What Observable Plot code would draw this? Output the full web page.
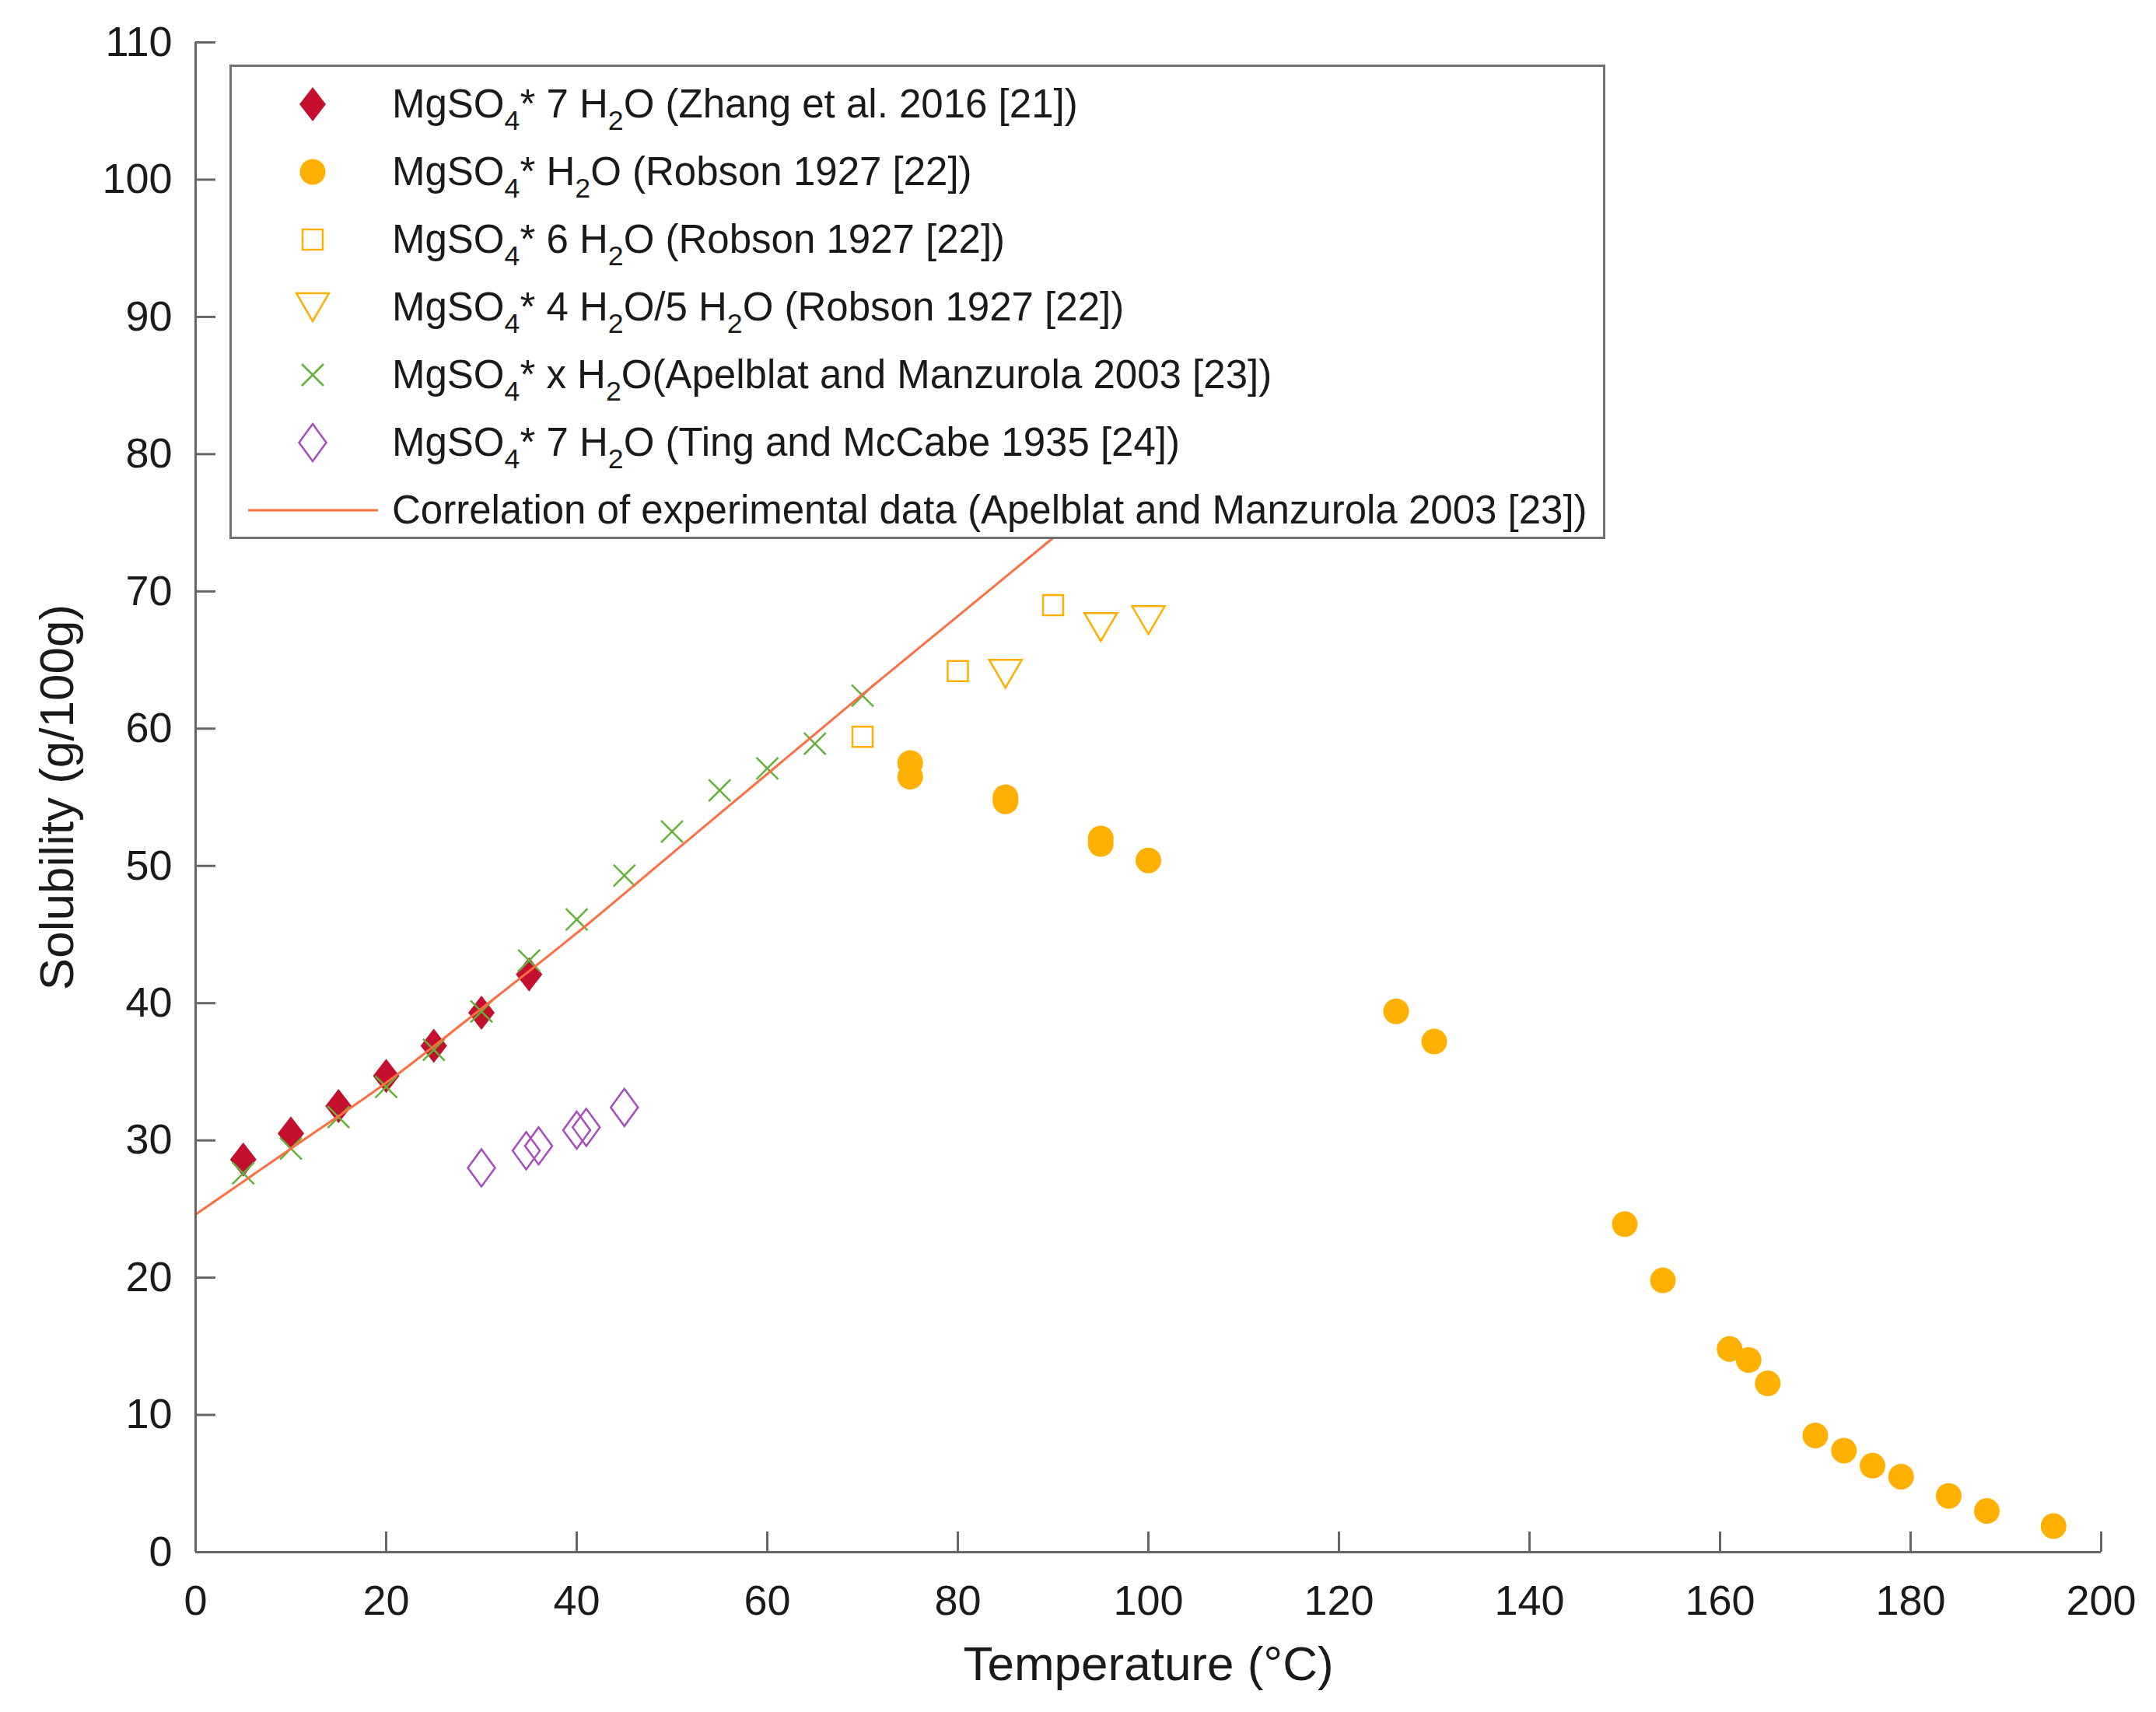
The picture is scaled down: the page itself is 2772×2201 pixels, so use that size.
<!DOCTYPE html>
<html><head><meta charset="utf-8">
<script src="https://cdn.jsdelivr.net/npm/d3@7"></script>
<script src="https://cdn.jsdelivr.net/npm/@observablehq/plot@0.6"></script>
<style>
html,body{margin:0;padding:0;background:#fff;}
#wrap{position:relative;width:2772px;height:2201px;font-family:"Liberation Sans",Arial,Helvetica,sans-serif;color:#1a1a1a;}
#legend{position:absolute;left:295px;top:83px;width:1769px;height:610px;box-sizing:border-box;border:3px solid #707070;background:#fff;}
.row{position:absolute;left:0;height:60px;line-height:60px;font-size:51px;white-space:nowrap;}
.row svg{position:absolute;top:0;overflow:visible;}
.row span{position:absolute;left:206px;top:0;}
sub{font-size:0.7em;vertical-align:-0.45em;line-height:0;}
</style></head>
<body>
<div id="wrap"><div id="legend"></div></div>
<script>
// ---------- data ----------
const xTicks = [0,20,40,60,80,100,120,140,160,180,200];
const yTicks = [0,10,20,30,40,50,60,70,80,90,100,110];

const zhangT = [5,10,15,20,25,30,35];
const zhangS = [28.6,30.5,32.5,34.7,36.9,39.3,42.1];

const robsonH2O_T = [75,75,85,85,95,95,100,126,130,150,154,161,163,165,170,173,176,179,184,188,195];
const robsonH2O_S = [57.5,56.5,55.0,54.7,52.0,51.6,50.4,39.4,37.2,23.9,19.8,14.8,14.0,12.3,8.5,7.4,6.3,5.5,4.1,3.0,1.9];

const robson6_T = [70,80,90];
const robson6_S = [59.4,64.2,69.0];

const robson45_T = [85,95,100];
const robson45_S = [64.0,67.4,67.9];

const apelT = [5,10,15,20,25,30,35,40,45,50,55,60,65,70];
const apelS = [27.6,29.4,31.7,33.9,36.6,39.4,43.1,46.1,49.3,52.5,55.5,57.1,58.9,62.4];

const tingT = [30,34.7,36,40,41,45];
const tingS = [28.0,29.25,29.6,30.75,30.95,32.4];

const corrT = [0,10,20,30,40,50,60,70,80,90,100];
const corrS = [24.6,29.4,34.2,39.6,45.1,50.9,56.7,62.5,68.2,73.9,79.5];

const legendLabels = [
  "MgSO<sub>4</sub>* 7 H<sub>2</sub>O (Zhang et al. 2016 [21])",
  "MgSO<sub>4</sub>* H<sub>2</sub>O (Robson 1927 [22])",
  "MgSO<sub>4</sub>* 6 H<sub>2</sub>O (Robson 1927 [22])",
  "MgSO<sub>4</sub>* 4 H<sub>2</sub>O/5 H<sub>2</sub>O (Robson 1927 [22])",
  "MgSO<sub>4</sub>* x H<sub>2</sub>O(Apelblat and Manzurola 2003 [23])",
  "MgSO<sub>4</sub>* 7 H<sub>2</sub>O (Ting and McCabe 1935 [24])",
  "Correlation of experimental data (Apelblat and Manzurola 2003 [23])"
];

// ---------- styles ----------
const RED = "#C4102E", ORANGE = "#FFB000", GREEN = "#62B23A", PURPLE = "#A64DBC", CORAL = "#FF6E40", AXIS = "#666666";

const sym = {
  diamondFilled: {draw(c){ c.moveTo(0,-22); c.lineTo(17,0); c.lineTo(0,22); c.lineTo(-17,0); c.closePath(); }},
  circle: {draw(c){ c.moveTo(16.5,0); c.arc(0,0,16.5,0,2*Math.PI); c.closePath(); }},
  square: {draw(c){ c.moveTo(-13,-13); c.lineTo(13,-13); c.lineTo(13,13); c.lineTo(-13,13); c.closePath(); }},
  triDown: {draw(c){ c.moveTo(-21,-18); c.lineTo(21,-18); c.lineTo(0,18); c.closePath(); }},
  cross: {draw(c){ c.moveTo(-14,-14); c.lineTo(14,14); c.moveTo(14,-14); c.lineTo(-14,14); }},
  diamondOpen: {draw(c){ c.moveTo(0,-24); c.lineTo(17.5,0); c.lineTo(0,24); c.lineTo(-17.5,0); c.closePath(); }}
};
const legendStyles = [
  {s: sym.diamondFilled, fill: RED, stroke: "none", sw: 0},
  {s: sym.circle, fill: ORANGE, stroke: "none", sw: 0},
  {s: sym.square, fill: "none", stroke: ORANGE, sw: 2.5},
  {s: sym.triDown, fill: "none", stroke: ORANGE, sw: 2.5},
  {s: sym.cross, fill: "none", stroke: GREEN, sw: 2.5},
  {s: sym.diamondOpen, fill: "none", stroke: PURPLE, sw: 2.5},
  null
];

const FRAME_W = 2772 - 251 - 71, FRAME_H = 2201 - 54 - 206, TICK = 26;

const chart = Plot.plot({
  width: 2772, height: 2201,
  marginLeft: 251, marginRight: 71, marginTop: 54, marginBottom: 206,
  x: {domain: [0,200]},
  y: {domain: [0,110]},
  style: {fontFamily: "'Liberation Sans', Arial, sans-serif", fontSize: "54px", color: "#1a1a1a", background: "white", overflow: "visible"},
  marks: [
    Plot.axisX({ticks: xTicks, tickSize: 0, tickPadding: 42, label: null, fontSize: 54, tickFormat: d => String(d)}),
    Plot.axisY({ticks: yTicks, tickSize: 0, tickPadding: 30, label: null, fontSize: 54, tickFormat: d => String(d)}),
    Plot.text(["Temperature (°C)"], {frameAnchor: "bottom", dy: 164, fontSize: 62}),
    Plot.text(["Solubility (g/100g)"], {frameAnchor: "left", dx: -177, rotate: -90, textAnchor: "middle", fontSize: 62}),
    Plot.dot(zhangT, {x: zhangT, y: zhangS, symbol: sym.diamondFilled, fill: RED, stroke: "none", r: 10}),
    Plot.dot(robsonH2O_T, {x: robsonH2O_T, y: robsonH2O_S, symbol: sym.circle, fill: ORANGE, stroke: "none", r: 10}),
    Plot.dot(robson6_T, {x: robson6_T, y: robson6_S, symbol: sym.square, fill: "none", stroke: ORANGE, strokeWidth: 2.5, r: 10}),
    Plot.dot(robson45_T, {x: robson45_T, y: robson45_S, symbol: sym.triDown, fill: "none", stroke: ORANGE, strokeWidth: 2.5, r: 10}),
    Plot.dot(apelT, {x: apelT, y: apelS, symbol: sym.cross, fill: "none", stroke: GREEN, strokeWidth: 2.5, r: 10}),
    Plot.dot(tingT, {x: tingT, y: tingS, symbol: sym.diamondOpen, fill: "none", stroke: PURPLE, strokeWidth: 2.5, r: 10}),
    Plot.line(corrT, {x: corrT, y: corrS, stroke: CORAL, strokeWidth: 3, curve: "catmull-rom"}),
    Plot.ruleX([0], {stroke: AXIS, strokeWidth: 3}),
    Plot.ruleY([0], {stroke: AXIS, strokeWidth: 3}),
    Plot.tickX(xTicks, {x: d => d, insetTop: FRAME_H - TICK, stroke: AXIS, strokeWidth: 3}),
    Plot.tickY(yTicks, {y: d => d, insetRight: FRAME_W - TICK, stroke: AXIS, strokeWidth: 3})
  ]
});
const wrap = document.getElementById("wrap");
wrap.insertBefore(chart, wrap.firstChild);

// ---------- legend ----------
const legend = document.getElementById("legend");
legendLabels.forEach((lab, i) => {
  const row = document.createElement("div");
  row.className = "row";
  row.style.top = (48 + 87 * i - 30) + "px";
  row.style.width = "100%";
  const st = legendStyles[i];
  let svg;
  if (st) {
    const p = d3.path(); st.s.draw(p, 100);
    svg = `<svg width="60" height="60" style="left:74px"><path transform="translate(30,30)" d="${p.toString()}" fill="${st.fill}" stroke="${st.stroke}" stroke-width="${st.sw}"/></svg>`;
  } else {
    svg = `<svg width="167" height="60" style="left:21px"><line x1="0" x2="167" y1="30" y2="30" stroke="${CORAL}" stroke-width="3"/></svg>`;
  }
  row.innerHTML = svg + `<span>${lab}</span>`;
  legend.appendChild(row);
});
</script>
</body></html>
